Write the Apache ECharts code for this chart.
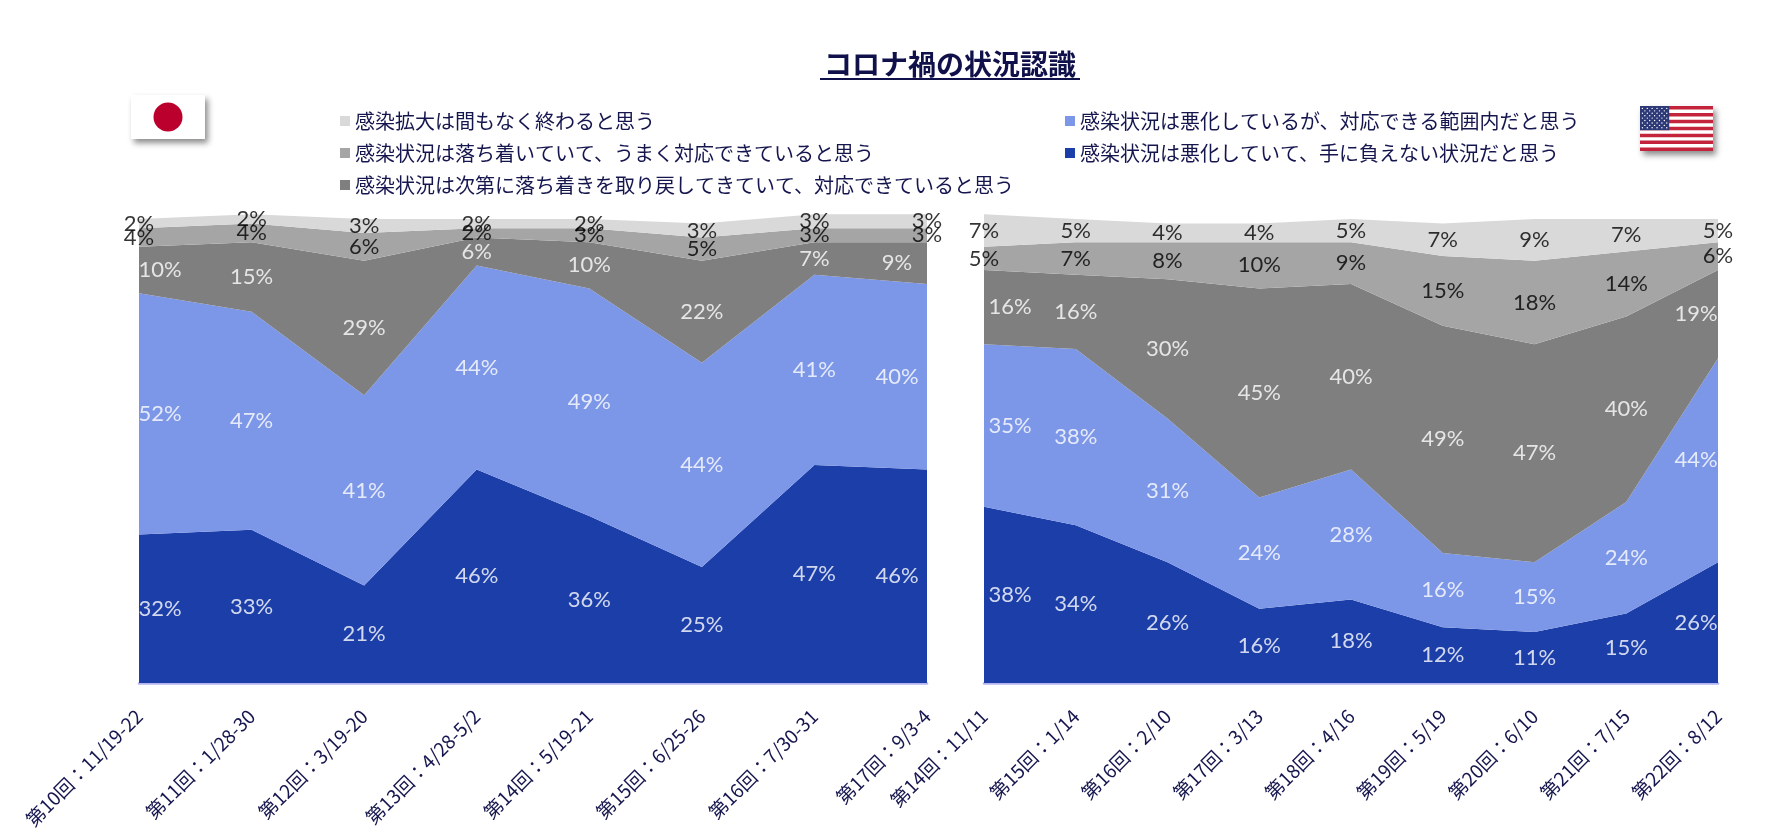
<!DOCTYPE html>
<html>
<head>
<meta charset="utf-8">
<script src="https://cdn.jsdelivr.net/npm/echarts@6/dist/echarts.min.js"></script>
<style>
html,body{margin:0;padding:0;background:#fff;}
#chart{width:1790px;height:838px;}
</style>
</head>
<body>
<div id="chart"></div>
<script>
// ---- data ----
const jpCategories = ["第10回：11/19-22","第11回：1/28-30","第12回：3/19-20","第13回：4/28-5/2","第14回：5/19-21","第15回：6/25-26","第16回：7/30-31","第17回：9/3-4"];
const usCategories = ["第14回：11/11","第15回：1/14","第16回：2/10","第17回：3/13","第18回：4/16","第19回：5/19","第20回：6/10","第21回：7/15","第22回：8/12"];

const seriesNames = [
  "感染状況は悪化していて、手に負えない状況だと思う",
  "感染状況は悪化しているが、対応できる範囲内だと思う",
  "感染状況は次第に落ち着きを取り戻してきていて、対応できていると思う",
  "感染状況は落ち着いていて、うまく対応できていると思う",
  "感染拡大は間もなく終わると思う"
];

// Japan (bottom -> top)
const jpDarkBlue  = [32,33,21,46,36,25,47,46];
const jpLightBlue = [52,47,41,44,49,44,41,40];
const jpDarkGray  = [10,15,29,6,10,22,7,9];
const jpMedGray   = [4,4,6,2,3,5,3,3];
const jpLightGray = [2,2,3,2,2,3,3,3];

// USA (bottom -> top)
const usDarkBlue  = [38,34,26,16,18,12,11,15,26];
const usLightBlue = [35,38,31,24,28,16,15,24,44];
const usDarkGray  = [16,16,30,45,40,49,47,40,19];
const usMedGray   = [5,7,8,10,9,15,18,14,6];
const usLightGray = [7,5,4,4,5,7,9,7,5];

const title = "コロナ禍の状況認識";

// ---- styles ----
const colors = ['#1b3ea9','#7c96e8','#7f7f7f','#a5a5a5','#d9d9d9'];
const labelColors = ['#ffffff','#ffffff','#ffffff','#000000','#000000'];
const navy = '#16164f';

const jpLayers = [jpDarkBlue, jpLightBlue, jpDarkGray, jpMedGray, jpLightGray];
const usLayers = [usDarkBlue, usLightBlue, usDarkGray, usMedGray, usLightGray];

function areaSeries(layers, idx, stack) {
  return layers.map((arr, k) => ({
    type: 'line',
    name: seriesNames[k],
    xAxisIndex: idx, yAxisIndex: idx,
    stack: stack,
    data: arr,
    symbol: 'none',
    showSymbol: false,
    color: colors[k],
    lineStyle: { width: 0, color: colors[k] },
    itemStyle: { color: colors[k] },
    areaStyle: { color: colors[k], opacity: 1 },
    z: 2,
    silent: true
  }));
}

function labelSeries(layers, idx, firstOff, lastOff) {
  const n = layers[0].length;
  const out = [];
  const cum = new Array(n).fill(0);
  layers.forEach((arr, k) => {
    const data = arr.map((v, i) => {
      const mid = cum[i] + v / 2;
      let dx = 0;
      if (labelColors[k] === '#ffffff') {
        if (i === 0) dx = firstOff;
        if (i === n - 1) dx = lastOff;
      }
      return { value: [i, mid, v], label: { offset: [dx, 0] } };
    });
    arr.forEach((v, i) => { cum[i] += v; });
    out.push({
      type: 'scatter',
      name: 'lbl' + idx + '_' + k,
      xAxisIndex: idx, yAxisIndex: idx,
      data: data,
      symbolSize: 1,
      itemStyle: { color: 'rgba(0,0,0,0)' },
      silent: true,
      z: 10,
      label: {
        show: true,
        position: 'inside',
        formatter: p => p.value[2] + '%',
        color: labelColors[k],
        fontFamily: 'Lato, "Noto Sans", sans-serif',
        fontSize: 22
      }
    });
  });
  return out;
}

const axisBottom = 155;
const gridTop = 209.7;

function xAxis(cats, idx) {
  return {
    type: 'category', gridIndex: idx, data: cats, boundaryGap: false,
    axisTick: { show: false },
    axisLine: { show: true, lineStyle: { color: '#b4b4f0', width: 2.5 } },
    axisLabel: {
      interval: 0, rotate: 45, margin: 30,
      color: navy, fontSize: 19,
      fontFamily: '"Noto Sans CJK JP", sans-serif'
    },
    splitLine: { show: false }
  };
}
function yAxis(idx) {
  return { type: 'value', gridIndex: idx, min: 0, max: 102, show: false, splitLine: { show: false } };
}

// US flag graphic
function usFlag(x0, y0, w, h) {
  const children = [];
  children.push({ type: 'rect', shape: { x: 0, y: 0, width: w, height: h },
    style: { fill: '#fff', shadowBlur: 6, shadowOffsetX: 3, shadowOffsetY: 4, shadowColor: 'rgba(0,0,0,0.45)' } });
  const sh = h / 13;
  for (let s = 0; s < 13; s += 2) {
    children.push({ type: 'rect', shape: { x: 0, y: s * sh, width: w, height: sh }, style: { fill: '#c4243b' } });
  }
  const cw = w * 0.4, ch = sh * 7;
  children.push({ type: 'rect', shape: { x: 0, y: 0, width: cw, height: ch }, style: { fill: '#2e3a78' } });
  for (let r = 0; r < 9; r++) {
    const cols = r % 2 === 0 ? 6 : 5;
    for (let c = 0; c < cols; c++) {
      const cx = (r % 2 === 0 ? (c + 0.5) : (c + 1)) * cw / 6;
      const cy = (r + 1) * ch / 10;
      children.push({ type: 'circle', shape: { cx: cx, cy: cy, r: 0.7 }, style: { fill: '#ffffff' } });
    }
  }
  return { type: 'group', x: x0, y: y0, children: children, silent: true };
}

const chart = echarts.init(document.getElementById('chart'), null, { renderer: 'canvas' });
chart.setOption({
  animation: false,
  backgroundColor: '#ffffff',
  grid: [
    { left: 139, width: 788, top: gridTop, bottom: axisBottom },
    { left: 984, width: 734, top: gridTop, bottom: axisBottom }
  ],
  xAxis: [xAxis(jpCategories, 0), xAxis(usCategories, 1)],
  yAxis: [yAxis(0), yAxis(1)],
  legend: [
    {
      data: [seriesNames[4], seriesNames[3], seriesNames[2]],
      orient: 'vertical', left: 335, top: 106,
      itemWidth: 10, itemHeight: 10, itemGap: 12, icon: 'rect',
      selectedMode: false,
      textStyle: { color: navy, fontSize: 20, lineHeight: 20, fontFamily: '"Noto Sans CJK JP", sans-serif' }
    },
    {
      data: [seriesNames[1], seriesNames[0]],
      orient: 'vertical', left: 1060, top: 106,
      itemWidth: 10, itemHeight: 10, itemGap: 12, icon: 'rect',
      selectedMode: false,
      textStyle: { color: navy, fontSize: 20, lineHeight: 20, fontFamily: '"Noto Sans CJK JP", sans-serif' }
    }
  ],
  graphic: [
    { type: 'text', x: 950, y: 64, silent: true,
      style: { text: title, fill: '#10104a', font: 'bold 28px "Noto Sans CJK JP"', textAlign: 'center', textVerticalAlign: 'middle' } },
    { type: 'line', silent: true, shape: { x1: 820, y1: 79, x2: 1080, y2: 79 }, style: { stroke: '#10104a', lineWidth: 2 } },
    { type: 'rect', silent: true, shape: { x: 131, y: 95, width: 74, height: 44 },
      style: { fill: '#ffffff', shadowBlur: 6, shadowOffsetX: 3, shadowOffsetY: 4, shadowColor: 'rgba(0,0,0,0.45)' } },
    { type: 'circle', silent: true, shape: { cx: 168, cy: 117, r: 14.5 }, style: { fill: '#bc002d' } },
    usFlag(1640, 106, 73, 45)
  ],
  series: [].concat(
    areaSeries(jpLayers, 0, 'jp'),
    areaSeries(usLayers, 1, 'us'),
    labelSeries(jpLayers, 0, 21, -30),
    labelSeries(usLayers, 1, 26, -22)
  )
});
</script>
</body>
</html>
